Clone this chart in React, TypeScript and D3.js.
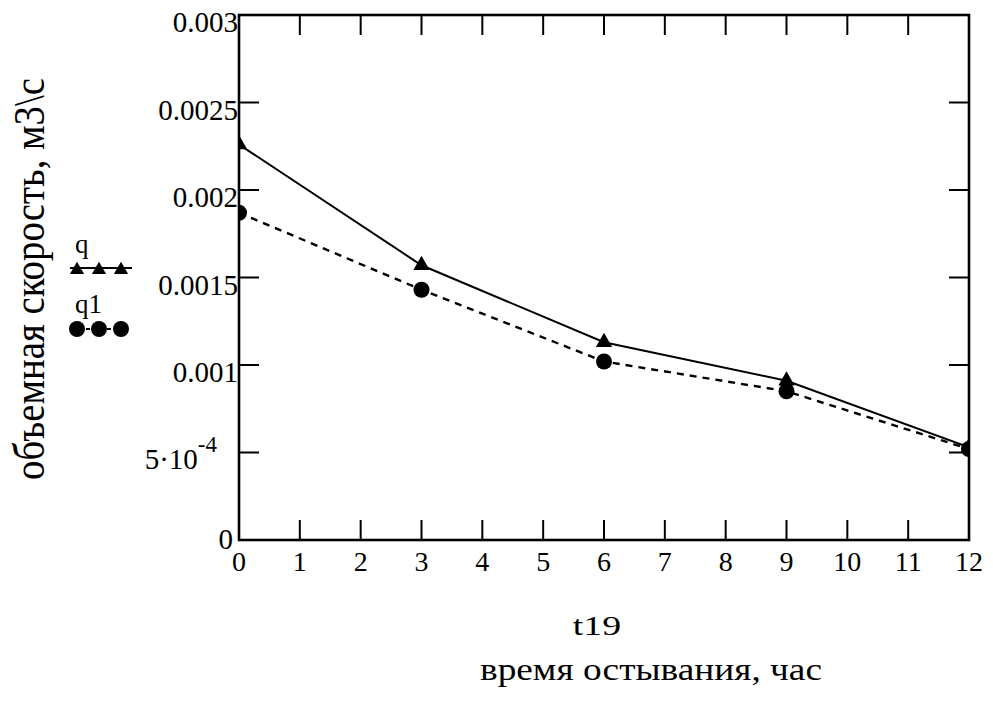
import { line, scaleLinear, symbol, symbolTriangle } from "d3";

// time, hours
const hours = [0, 3, 6, 9, 12];
// volumetric flow, m3/s
const qValues = [0.00226, 0.00157, 0.00113, 0.00091, 0.00053];
const q1Values = [0.00187, 0.00143, 0.00102, 0.00085, 0.00052];

const xTicks = [0, 1, 2, 3, 4, 5, 6, 7, 8, 9, 10, 11, 12];
const yTicks = [0, 0.0005, 0.001, 0.0015, 0.002, 0.0025, 0.003];
const yTickLabels = ["0", "5·10", "0.001", "0.0015", "0.002", "0.0025", "0.003"];

const legendSlots = [0, 1, 2];

const W = 993;
const H = 706;
const margin = { top: 15, right: 24, bottom: 166, left: 239 };
const font = "'Liberation Serif', 'Times New Roman', serif";

export default function App() {
  const innerW = W - margin.left - margin.right;
  const innerH = H - margin.top - margin.bottom;

  const x = scaleLinear().domain([0, 12]).range([margin.left, margin.left + innerW]);
  const y = scaleLinear().domain([0, 0.003]).range([margin.top + innerH, margin.top]);

  const pathFor = (vals: number[]) =>
    line<number>()
      .x((_, i) => x(hours[i]))
      .y((d) => y(d))(vals) || "";

  const tri = symbol().type(symbolTriangle).size(115)() || "";
  const triSmall = symbol().type(symbolTriangle).size(88)() || "";

  // legend row positions
  const legX = scaleLinear().domain([0, 2]).range([77, 121]);

  const x0 = x(0);
  const x1 = x(12);
  const yTop = y(0.003);
  const yBot = y(0);
  const tickLen = 20;

  return (
    <>
      <style>{`body{margin:0;background:#fff}`}</style>
      <svg width={W} height={H} style={{ display: "block", background: "#fff" }} fontFamily={font}>
        <defs>
          <clipPath id="plotArea">
            <rect x={x0} y={yTop} width={x1 - x0} height={yBot - yTop} />
          </clipPath>
        </defs>

        {/* ticks on all four sides, pointing inward */}
        {xTicks.map((t) => (
          <g key={"xt" + t} stroke="#000" strokeWidth={2}>
            <line x1={x(t)} x2={x(t)} y1={yBot} y2={yBot - tickLen} />
            <line x1={x(t)} x2={x(t)} y1={yTop} y2={yTop + tickLen} />
          </g>
        ))}
        {yTicks.map((t) => (
          <g key={"yt" + t} stroke="#000" strokeWidth={2}>
            <line x1={x0} x2={x0 + tickLen} y1={y(t)} y2={y(t)} />
            <line x1={x1} x2={x1 - tickLen} y1={y(t)} y2={y(t)} />
          </g>
        ))}
        <rect x={x0} y={yTop} width={x1 - x0} height={yBot - yTop} fill="none" stroke="#000" strokeWidth={2.6} />

        {/* y tick labels */}
        {yTicks.map((t, i) =>
          i === 1 ? (
            <text key={"yl" + t} x={x0 - 22} y={y(t) + 16} fontSize={29} textAnchor="end">
              {yTickLabels[i]}
              <tspan fontSize={23} dy={-17}>
                -4
              </tspan>
            </text>
          ) : (
            <text
              key={"yl" + t}
              x={i === 0 ? x0 - 6 : x0 - 1}
              y={i === 0 ? y(t) + 9 : y(t) + 17}
              fontSize={29}
              textAnchor="end"
            >
              {yTickLabels[i]}
            </text>
          ),
        )}

        {/* x tick labels */}
        {xTicks.map((t) => (
          <text key={"xl" + t} x={x(t)} y={yBot + 31} fontSize={28} textAnchor="middle">
            {t}
          </text>
        ))}

        {/* series */}
        <g clipPath="url(#plotArea)">
          <path d={pathFor(qValues)} fill="none" stroke="#000" strokeWidth={2} />
          <path d={pathFor(q1Values)} fill="none" stroke="#000" strokeWidth={2.4} strokeDasharray="7,6" />
          {q1Values.map((v, i) => (
            <circle key={"c" + i} cx={x(hours[i])} cy={y(v)} r={8} fill="#000" />
          ))}
          {qValues.map((v, i) => (
            <path key={"t" + i} d={tri} transform={`translate(${x(hours[i])},${y(v)})`} fill="#000" />
          ))}
        </g>

        {/* legend */}
        <text x={75} y={253} fontSize={27}>
          q
        </text>
        <line x1={70} x2={132} y1={268} y2={268} stroke="#000" strokeWidth={2} />
        {legendSlots.map((s) => (
          <path key={"lt" + s} d={triSmall} transform={`translate(${legX(s)},${270})`} fill="#000" />
        ))}
        <text x={75} y={313} fontSize={27}>
          q1
        </text>
        <line x1={72} x2={126} y1={329} y2={329} stroke="#000" strokeWidth={2} strokeDasharray="4,3" />
        {legendSlots.map((s) => (
          <circle key={"lc" + s} cx={legX(s)} cy={329} r={8} fill="#000" />
        ))}

        {/* axis titles */}
        <text
          transform={`translate(44,279) scale(1.25,1) rotate(-90)`}
          fontSize={36}
          textAnchor="middle"
          textLength={402}
          lengthAdjust="spacingAndGlyphs"
        >
          объемная скорость, м3\с
        </text>
        <text transform="translate(597,635) scale(1.4,1)" fontSize={27} textAnchor="middle">
          t19
        </text>
        <text x={651} y={680} fontSize={31} textAnchor="middle" textLength={342} lengthAdjust="spacingAndGlyphs">
          время остывания, час
        </text>
      </svg>
    </>
  );
}
